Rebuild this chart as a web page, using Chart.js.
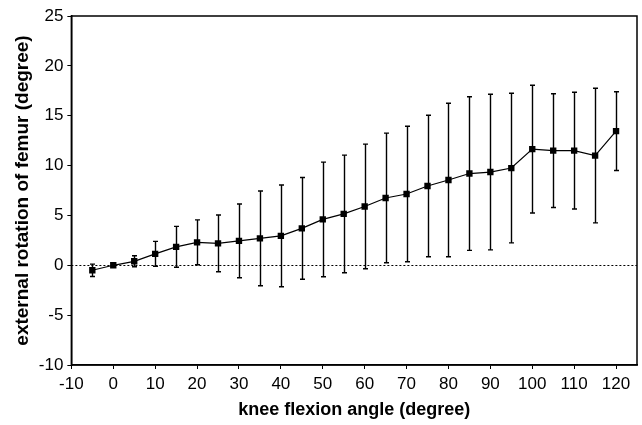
<!DOCTYPE html>
<html lang="en">
<head>
    <meta charset="UTF-8">
    <title>External rotation of femur</title>
    <script src="https://cdn.jsdelivr.net/npm/chart.js"></script>
    <style>
        html, body { margin: 0; padding: 0; background: #fff; }
        #wrap { width: 642px; height: 425px; }
    </style>
</head>
<body>
<div id="wrap"><canvas id="rotChart" width="642" height="425"></canvas></div>
<script>
    // knee flexion angle (degree)
    const angles = [-5, 0, 5, 10, 15, 20, 25, 30, 35, 40, 45, 50, 55, 60,
                    65, 70, 75, 80, 85, 90, 95, 100, 105, 110, 115, 120];
    // mean external rotation of femur (degree)
    const meanRot = [-0.5, 0, 0.4, 1.15, 1.85, 2.3, 2.2, 2.45, 2.7, 2.95, 3.7, 4.6, 5.15, 5.9,
                     6.75, 7.15, 7.95, 8.55, 9.2, 9.35, 9.75, 11.65, 11.5, 11.5, 11.0, 13.45];
    // standard deviation
    const sdRot = [0.62, 0, 0.55, 1.25, 2.05, 2.25, 2.85, 3.7, 4.75, 5.1, 5.1, 5.75, 5.9, 6.25,
                   6.5, 6.8, 7.1, 7.7, 7.7, 7.8, 7.5, 6.4, 5.7, 5.85, 6.75, 3.95];

    const font = "'Liberation Sans', Arial, sans-serif";

    // error bars, zero line and box around plot
    const extras = {
        id: 'extras',
        beforeDatasetsDraw(chart) {
            const { ctx, chartArea: a, scales: { x, y } } = chart;
            ctx.save();
            // dotted zero line
            ctx.strokeStyle = '#000';
            ctx.lineWidth = 1;
            ctx.setLineDash([2, 2]);
            const y0 = Math.round(y.getPixelForValue(0)) + 0.5;
            ctx.beginPath();
            ctx.moveTo(a.left, y0);
            ctx.lineTo(a.right, y0);
            ctx.stroke();
            ctx.setLineDash([]);
            // error bars
            ctx.lineWidth = 1.4;
            angles.forEach((ang, i) => {
                if (!sdRot[i]) return;
                const px = Math.round(x.getPixelForValue(ang)) + 0.5;
                const top = y.getPixelForValue(meanRot[i] + sdRot[i]);
                const bot = y.getPixelForValue(meanRot[i] - sdRot[i]);
                ctx.beginPath();
                ctx.moveTo(px, top);
                ctx.lineTo(px, bot);
                ctx.moveTo(px - 2.5, top);
                ctx.lineTo(px + 2.5, top);
                ctx.moveTo(px - 2.5, bot);
                ctx.lineTo(px + 2.5, bot);
                ctx.stroke();
            });
            ctx.restore();
        },
        afterDraw(chart) {
            const { ctx, chartArea: a } = chart;
            ctx.save();
            ctx.strokeStyle = '#000';
            ctx.lineWidth = 1.5;
            ctx.strokeRect(a.left, a.top, a.right - a.left, a.bottom - a.top);
            ctx.restore();
        }
    };

    new Chart(document.getElementById('rotChart'), {
        type: 'scatter',
        data: {
            datasets: [{
                data: angles.map((a, i) => ({ x: a, y: meanRot[i] })),
                showLine: true,
                borderColor: '#000',
                borderWidth: 1.2,
                backgroundColor: '#000',
                pointStyle: 'rect',
                pointRadius: 4.5,
                pointBorderWidth: 0
            }]
        },
        options: {
            responsive: false,
            animation: false,
            layout: { padding: { top: 16, right: 5, left: 7, bottom: 2 } },
            plugins: { legend: { display: false }, tooltip: { enabled: false } },
            scales: {
                x: {
                    type: 'linear',
                    min: -10,
                    max: 125,
                    border: { display: true, color: '#000', width: 1.5 },
                    grid: { drawOnChartArea: false, color: '#000', tickLength: 4 },
                    ticks: {
                        stepSize: 10,
                        includeBounds: false,
                        color: '#000',
                        font: { family: font, size: 17 },
                        padding: 5,
                        maxRotation: 0
                    },
                    title: {
                        display: true,
                        text: 'knee flexion angle (degree)',
                        color: '#000',
                        font: { family: font, size: 18, weight: 'bold' },
                        padding: { top: 0, bottom: 2 }
                    }
                },
                y: {
                    min: -10,
                    max: 25,
                    border: { display: true, color: '#000', width: 1.5 },
                    grid: { drawOnChartArea: false, color: '#000', tickLength: 4 },
                    ticks: {
                        stepSize: 5,
                        color: '#000',
                        font: { family: font, size: 17 },
                        padding: 4
                    },
                    title: {
                        display: true,
                        text: 'external rotation of femur (degree)',
                        color: '#000',
                        font: { family: font, size: 19, weight: 'bold' },
                        padding: { top: 4, bottom: 1 }
                    }
                }
            }
        },
        plugins: [extras]
    });
</script>
</body>
</html>
